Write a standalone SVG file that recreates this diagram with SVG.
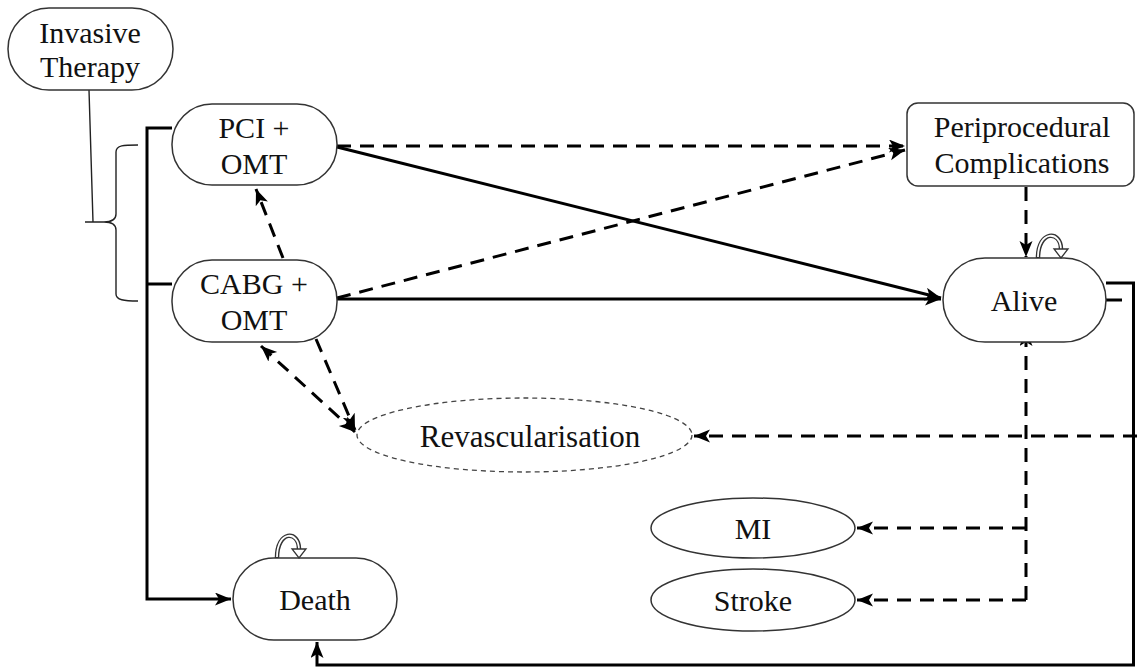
<svg xmlns="http://www.w3.org/2000/svg" width="1137" height="668" viewBox="0 0 1137 668">
<style>
.node{fill:#fff;stroke:#333;stroke-width:1.5}
.t{font-family:"Liberation Serif","Times New Roman",serif;font-size:30px;fill:#111;text-anchor:middle}
.solid{fill:none;stroke:#000;stroke-width:3}
.dash{fill:none;stroke:#000;stroke-width:3;stroke-dasharray:14 9}
.thin{fill:none;stroke:#222;stroke-width:1.4}
.loopo{fill:none;stroke:#333;stroke-width:4.5}
.loopi{fill:none;stroke:#fff;stroke-width:1.8}
.head{fill:#fff;stroke:#333;stroke-width:1.3}
</style>
<defs>
<marker id="arr" markerUnits="userSpaceOnUse" markerWidth="18" markerHeight="14" refX="16" refY="6.5" orient="auto-start-reverse">
<path d="M0,0 L16,6.5 L0,13 L4,6.5 z" fill="#000"/>
</marker>
</defs>
<g id="connectors">
<path class="thin" d="M89,90 L93,222 M85,222 L104,222"/>
<path class="thin" d="M138,145 C124,145 116,145 116,152 L116,214 C116,220 112,222 104,222 C112,222 116,224 116,230 L116,294 C116,300 124,301 138,301"/>
<path class="solid" d="M172,128 L147,128 L147,599 L231,599" marker-end="url(#arr)"/>
<path class="solid" d="M147,284 L172,284"/>
<path class="solid" d="M337,147 L941,298" marker-end="url(#arr)"/>
<path class="solid" d="M337,299 L941,299" marker-end="url(#arr)"/>
<path class="dash" d="M337,146 L905,146" marker-end="url(#arr)"/>
<path class="dash" d="M337,298 L905,150" marker-end="url(#arr)"/>
<path class="dash" d="M283,258 L256,189" marker-end="url(#arr)"/>
<path class="dash" d="M261,346 L355,432" marker-start="url(#arr)" marker-end="url(#arr)"/>
<path class="dash" d="M316,339 L355,430" marker-end="url(#arr)"/>
<path class="dash" d="M1026,187 L1026,257" marker-end="url(#arr)"/>
<path class="solid" d="M1106,283 L1133.5,283 L1133.5,665 L317,665 L317,642" marker-end="url(#arr)"/>
<path class="solid" d="M1106,300 L1122,300"/>
<path class="dash" d="M1137,436 L694,436" marker-end="url(#arr)"/>
<path class="dash" d="M1026,600 L1026,330" marker-end="url(#arr)"/>
<path class="dash" d="M1026,528 L857,528" marker-end="url(#arr)"/>
<path class="dash" d="M1026,600 L857,600" marker-end="url(#arr)"/>
</g>
<g id="invasive">
<rect class="node" x="8" y="8" width="165" height="82" rx="41"/>
<text class="t" x="90" y="43">Invasive</text>
<text class="t" x="90" y="77">Therapy</text>
</g>
<g id="pci">
<rect class="node" x="172" y="104" width="165" height="81" rx="40"/>
<text class="t" x="254" y="138">PCI +</text>
<text class="t" x="254" y="174">OMT</text>
</g>
<g id="cabg">
<rect class="node" x="172" y="260" width="165" height="82" rx="40"/>
<text class="t" x="254" y="294">CABG +</text>
<text class="t" x="254" y="330">OMT</text>
</g>
<g id="periprocedural">
<rect class="node" x="907" y="103" width="227" height="83" rx="11"/>
<text class="t" x="1022" y="137">Periprocedural</text>
<text class="t" x="1022" y="173">Complications</text>
</g>
<g id="alive">
<rect class="node" x="943" y="258" width="163" height="84" rx="42"/>
<text class="t" x="1024" y="311">Alive</text>
<path class="loopo" d="M1038,258 C1038,230 1061,230 1061,249"/>
<path class="loopi" d="M1038,257 C1038,230 1061,230 1061,250"/>
<path class="head" d="M1054,249 L1068,249 L1061,258 z"/>
</g>
<g id="revascularisation">
<ellipse cx="524.5" cy="435" rx="167.5" ry="37" fill="#fff" stroke="#444" stroke-width="1.3" stroke-dasharray="5 4"/>
<text class="t" x="530" y="447" style="font-size:31px">Revascularisation</text>
</g>
<g id="mi">
<ellipse class="node" cx="753" cy="528" rx="102" ry="30"/>
<text class="t" x="753" y="539">MI</text>
</g>
<g id="stroke">
<ellipse class="node" cx="753" cy="600" rx="102" ry="31"/>
<text class="t" x="753" y="611">Stroke</text>
</g>
<g id="death">
<rect class="node" x="233" y="558" width="164" height="82" rx="41"/>
<text class="t" x="315" y="610">Death</text>
<path class="loopo" d="M277,558 C277,530 299,530 299,549"/>
<path class="loopi" d="M277,557 C277,530 299,530 299,550"/>
<path class="head" d="M292,549 L306,549 L299,558 z"/>
</g>
</svg>
